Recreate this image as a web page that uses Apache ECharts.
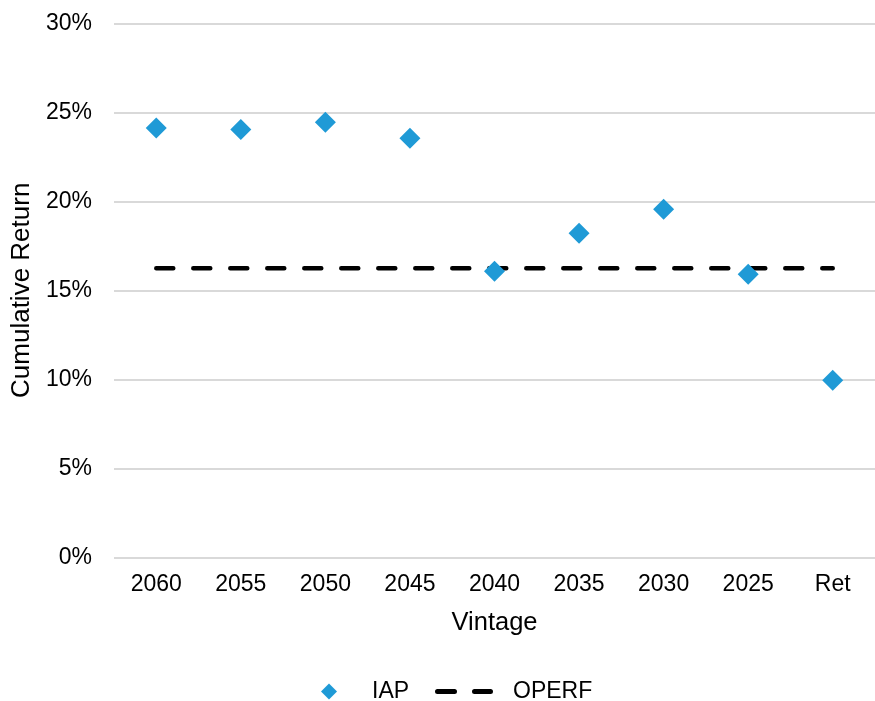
<!DOCTYPE html>
<html>
<head>
<meta charset="utf-8">
<script src="https://cdn.jsdelivr.net/npm/echarts@6/dist/echarts.min.js"></script>
<style>
html,body{margin:0;padding:0;background:#fff;}
#chart{width:875px;height:701px;}
</style>
</head>
<body>
<div id="chart"></div>
<script>
const categories = ['2060','2055','2050','2045','2040','2035','2030','2025','Ret'];
const iapValues = [24.12, 24.04, 24.44, 23.54, 16.07, 18.2, 19.55, 15.9, 9.94];
const operfValue = 16.24;
const operfValues = categories.map(() => operfValue);
const yTicks = [0, 5, 10, 15, 20, 25, 30];

const FONT = '"Liberation Sans", Arial, sans-serif';
const dashIcon = 'path://M2.5,0 H19.5 A2.5,2.5 0 0 1 19.5,5 H2.5 A2.5,2.5 0 0 1 2.5,0 Z M39.5,0 H55.5 A2.5,2.5 0 0 1 55.5,5 H39.5 A2.5,2.5 0 0 1 39.5,0 Z';
const chart = echarts.init(document.getElementById('chart'));
chart.setOption({
  animation: false,
  backgroundColor: '#ffffff',
  grid: { left: 114, right: 0, top: 23.3, bottom: 143.7, containLabel: false },
  xAxis: {
    type: 'category',
    data: categories,
    boundaryGap: true,
    axisLine: { show: false },
    axisTick: { show: false },
    axisLabel: { color: '#000', fontFamily: FONT, fontSize: 23, margin: 16 },
    name: 'Vintage',
    nameLocation: 'middle',
    nameGap: 53,
    nameTextStyle: { color: '#000', fontFamily: FONT, fontSize: 25.5 }
  },
  yAxis: {
    type: 'value',
    min: yTicks[0],
    max: yTicks[yTicks.length - 1],
    interval: 5,
    axisLine: { show: false },
    axisTick: { show: false },
    splitLine: { lineStyle: { color: '#d9d9d9', width: 2 } },
    axisLabel: { color: '#000', fontFamily: FONT, fontSize: 23, margin: 22, formatter: v => v + '%' },
    name: 'Cumulative Return',
    nameLocation: 'middle',
    nameGap: 78,
    nameTextStyle: { color: '#000', fontFamily: FONT, fontSize: 26 }
  },
  legend: [
    {
      data: [{ name: 'IAP', icon: 'diamond' }],
      left: 321, top: 680, padding: 0,
      itemWidth: 16, itemHeight: 16,
      textStyle: { color: '#000', fontFamily: FONT, fontSize: 23, padding: [0, 0, 0, 30] },
      selectedMode: false
    },
    {
      data: [{ name: 'OPERF', icon: dashIcon }],
      left: 435, top: 680, padding: 0,
      itemWidth: 58, itemHeight: 5,
      textStyle: { color: '#000', fontFamily: FONT, fontSize: 23, padding: [0, 0, 0, 15] },
      selectedMode: false
    }
  ],
  series: [
    {
      name: 'OPERF',
      type: 'line',
      data: operfValues,
      symbol: 'none',
      lineStyle: { color: '#000', width: 4.5, type: [17, 20], cap: 'round' },
      itemStyle: { color: '#000' },
      z: 2
    },
    {
      name: 'IAP',
      type: 'scatter',
      data: iapValues,
      symbol: 'diamond',
      symbolSize: 21,
      itemStyle: { color: '#1f9ad6', opacity: 1 },
      z: 3
    }
  ]
});
</script>
</body>
</html>
